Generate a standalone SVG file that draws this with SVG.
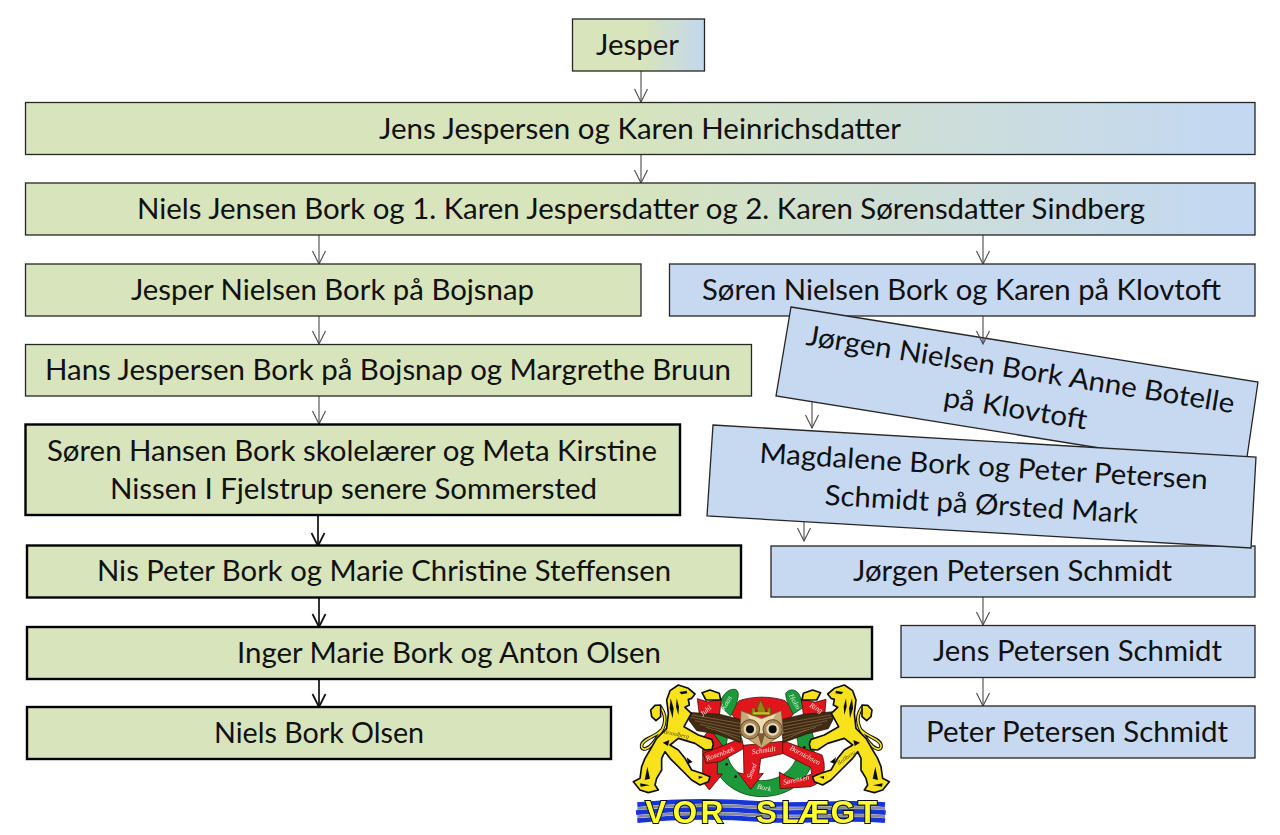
<svg xmlns="http://www.w3.org/2000/svg" xmlns:xlink="http://www.w3.org/1999/xlink" width="1280" height="835" viewBox="0 0 1280 835">
<style>
.n{stroke:#262626;stroke-width:1.3;filter:url(#soft)}
.t{stroke:#000;stroke-width:2.4;filter:url(#soft)}
.g{fill:#d7e4bc}.b{fill:#c6d9f1}
.x{font-family:"Lato","Liberation Sans",sans-serif;font-size:28px;fill:#111}
.c{fill:none;stroke:#4a4a4a;stroke-width:1.1;marker-end:url(#a)}
.k{fill:none;stroke:#111;stroke-width:1.7;marker-end:url(#a2)}
.cr{font-family:"Liberation Serif",serif;font-style:italic;fill:#f6ead8;font-size:22px;text-anchor:middle}
.li{font-family:"Liberation Serif",serif;font-style:italic;fill:#5a4a00;font-size:18px;text-anchor:middle}
.vs{font-family:"Liberation Sans",sans-serif;font-weight:700;font-size:94px;fill:#ffff30;stroke:#111;stroke-width:6;paint-order:stroke}
.lion{fill:#f8e21e;stroke:#111;stroke-width:5;stroke-linejoin:round}
.red{fill:#e0161e;stroke:#4a0c0c;stroke-width:2.5;stroke-linejoin:round}
.grn{fill:#1f9a3a;stroke:#0c4a1a;stroke-width:2.5}
.fe{fill:none;stroke:#9a7a4c;stroke-width:1.800}
</style>
<defs>
<linearGradient id="gr1"><stop offset="0" stop-color="#d7e4bc"/><stop offset=".47" stop-color="#d7e4bc"/><stop offset=".97" stop-color="#c4d8f1"/></linearGradient>
<linearGradient id="gr2"><stop offset="0" stop-color="#d7e4bc"/><stop offset=".55" stop-color="#d7e4bc"/><stop offset="1" stop-color="#c2d7f0"/></linearGradient>
<filter id="soft" x="-5%" y="-20%" width="110%" height="140%"><feGaussianBlur stdDeviation=".5"/></filter>
<filter id="blur" x="-5%" y="-5%" width="110%" height="110%"><feGaussianBlur stdDeviation=".5"/></filter>
<marker id="a" markerUnits="userSpaceOnUse" markerWidth="16" markerHeight="16" refX="14" refY="8" orient="auto"><path d="M1 1.5L14 8L1 14.5" fill="none" stroke="#4a4a4a" stroke-width="1.1"/></marker>
<marker id="a2" markerUnits="userSpaceOnUse" markerWidth="16" markerHeight="16" refX="14" refY="8" orient="auto"><path d="M1 1.5L14 8L1 14.5" fill="none" stroke="#111" stroke-width="1.7"/></marker>
<g id="lionshape">
<path fill="none" stroke="#111" stroke-width="11" stroke-linecap="round" d="M125 180C100 205 70 205 65 225C62 245 85 240 105 212C130 178 148 150 122 112"/>
<path fill="none" stroke="#f8e21e" stroke-width="5" stroke-linecap="round" d="M125 180C100 205 70 205 65 225C62 245 85 240 105 212C130 178 148 150 122 112"/>
<path class="lion" d="M122 105L105 106L92 120L95 140L108 152L122 140Z"/>
<path class="lion" d="M150 62L175 45L205 55L225 72L215 85L205 88L208 105L195 112L214 130L192 170L235 195L275 208L280 222L276 238L255 240L225 220L175 205L150 225L175 240L195 265L215 300L245 310L270 320L265 335L240 345L215 330L185 300L150 265L135 245L125 265L125 300L110 325L105 345L115 360L85 368L60 360L40 335L60 325L65 290L75 265L90 240L110 205L140 175L145 130L140 90Z"/>
<path fill="#111" d="M178 66L200 62L202 70L184 73Z M152 85l9 30l-3 30l-9-30Z M170 85l7 25l-2 25l-7-25Z M128 218l20-8l-4 18Z M200 262l18 14l-14 6Z M82 290l-8 40l16-4Z M236 318l14 3l-14 6Z M60 340l30 6l-28 4Z"/>
<path class="lion" d="M246 68L270 60L298 70L302 90L258 90Z"/>
</g>
</defs>
<rect width="1280" height="835" fill="#fff"/>

<g id="connectors">
<path class="c" d="M641 71V102"/>
<path class="c" d="M641 155V183"/>
<path class="c" d="M319 235V264"/>
<path class="c" d="M983 235V264"/>
<path class="c" d="M319 316V344"/>
<path class="c" d="M319 396V424"/>
<path class="k" d="M318 516V546"/>
<path class="k" d="M319 598V627"/>
<path class="k" d="M319 679V707"/>
<path class="c" d="M983 597V625"/>
<path class="c" d="M983 677V706"/>
</g>

<g id="n1"><rect class="n" x="572.500" y="19" width="132" height="52" fill="url(#gr2)"/><text class="x" x="596" y="55" textLength="83" lengthAdjust="spacingAndGlyphs">Jesper</text></g>
<g id="n2"><rect class="n" x="25.500" y="102.500" width="1229.500" height="52" fill="url(#gr1)"/><text class="x" x="379" y="139" textLength="522" lengthAdjust="spacingAndGlyphs">Jens Jespersen og Karen Heinrichsdatter</text></g>
<g id="n3"><rect class="n" x="25.500" y="183" width="1229.500" height="52" fill="url(#gr1)"/><text class="x" x="137" y="219" textLength="1008" lengthAdjust="spacingAndGlyphs">Niels Jensen Bork og 1. Karen Jespersdatter og 2. Karen Sørensdatter Sindberg</text></g>
<g id="n4"><rect class="n g" x="25.500" y="264" width="615.500" height="52"/><text class="x" x="131" y="300" textLength="403" lengthAdjust="spacingAndGlyphs">Jesper Nielsen Bork på Bojsnap</text></g>
<g id="n5"><rect class="n b" x="669.500" y="264" width="585.500" height="52"/><text class="x" x="702" y="300" textLength="519" lengthAdjust="spacingAndGlyphs">Søren Nielsen Bork og Karen på Klovtoft</text></g>
<g id="n6"><rect class="n g" x="25.500" y="344.500" width="726" height="51.500"/><text class="x" x="45" y="380" textLength="686" lengthAdjust="spacingAndGlyphs">Hans Jespersen Bork på Bojsnap og Margrethe Bruun</text></g>
<g id="n7"><rect class="t g" x="25.500" y="424.500" width="654.500" height="90.500"/><text class="x" x="47" y="461" textLength="610" lengthAdjust="spacingAndGlyphs">Søren Hansen Bork skolelærer og Meta Kirstine</text><text class="x" x="110" y="499" textLength="487" lengthAdjust="spacingAndGlyphs">Nissen I Fjelstrup senere Sommersted</text></g>
<g id="n8"><rect class="t g" x="27" y="545.500" width="714" height="52"/><text class="x" x="97" y="581" textLength="574" lengthAdjust="spacingAndGlyphs">Nis Peter Bork og Marie Christine Steffensen</text></g>
<g id="n9"><rect class="t g" x="27" y="627" width="845" height="52"/><text class="x" x="237" y="663" textLength="424" lengthAdjust="spacingAndGlyphs">Inger Marie Bork og Anton Olsen</text></g>
<g id="n10"><rect class="t g" x="27" y="707" width="584" height="52"/><text class="x" x="214" y="743" textLength="210" lengthAdjust="spacingAndGlyphs">Niels Bork Olsen</text></g>
<g id="n11"><polygon class="n b" points="791,307 1258,382 1247,457 1243,471 776,396"/><text class="x" text-anchor="middle" transform="translate(1019,379) rotate(9.1)" textLength="433" lengthAdjust="spacingAndGlyphs">Jørgen Nielsen Bork Anne Botelle</text><text class="x" text-anchor="middle" transform="translate(1014,418) rotate(9.1)" textLength="145" lengthAdjust="spacingAndGlyphs">på Klovtoft</text></g>
<g id="n13"><rect class="n b" x="771" y="546" width="484" height="51"/><text class="x" x="853" y="581" textLength="319" lengthAdjust="spacingAndGlyphs">Jørgen Petersen Schmidt</text></g>
<g id="n12"><polygon class="n b" points="713,425 1256,457 1251,548 707,516"/><text class="x" text-anchor="middle" transform="translate(983,476) rotate(3.4)" textLength="449" lengthAdjust="spacingAndGlyphs">Magdalene Bork og Peter Petersen</text><text class="x" text-anchor="middle" transform="translate(981,514) rotate(3.4)" textLength="314" lengthAdjust="spacingAndGlyphs">Schmidt på Ørsted Mark</text></g>
<g id="n14"><rect class="n b" x="901" y="625.500" width="354" height="52"/><text class="x" x="933" y="661" textLength="289" lengthAdjust="spacingAndGlyphs">Jens Petersen Schmidt</text></g>
<g id="n15"><rect class="n b" x="901" y="706" width="354" height="52"/><text class="x" x="926" y="742" textLength="302" lengthAdjust="spacingAndGlyphs">Peter Petersen Schmidt</text></g>

<g id="connectors-over">
<path class="c" d="M983 316V344"/>
<path class="c" d="M812 402V428"/>
<path class="c" d="M804 522V541"/>
</g>

<g id="crest" transform="translate(620,670) scale(.33333)" filter="url(#blur)">
<!-- horseshoe -->
<path class="grn" d="M278 175C245 300 330 380 425 380C530 380 610 300 574 175L530 200C552 280 490 332 425 332C360 332 305 280 322 205Z"/>
<circle cx="320" cy="283" r="4" fill="#111"/><circle cx="347" cy="320" r="4" fill="#111"/><circle cx="553" cy="232" r="4" fill="#111"/>
<!-- top arch and flags -->
<path class="red" d="M330 125L358 92C400 78 452 78 495 92L525 125L495 165L360 165Z"/>
<path class="grn" d="M298 105C305 78 322 55 346 58C360 64 355 85 347 108L332 138Z"/>
<path class="grn" d="M497 70C510 52 536 58 542 85L550 112L520 132C510 115 497 90 497 70Z"/>
<path class="red" d="M232 86L264 96L304 86L298 138L240 148Z"/>
<path class="red" d="M544 86L585 97L618 88L613 148L550 132Z"/>
<!-- arrows -->
<path class="red" d="M248 205L270 176L308 228L292 245L292 312L307 312L268 360L230 312L248 312Z"/>
<path class="red" d="M250 250L365 205L372 235L300 275L258 280Z"/>
<path class="red" d="M370 226L490 214L492 250L422 266L416 312L430 310L392 358L354 308L372 312Z"/>
<path class="red" d="M488 212L606 255C622 300 610 340 570 350L480 356L478 306L498 318L530 330L575 312L572 292L488 250Z"/>
<!-- wings -->
<path fill="#3f2a14" stroke="#2a1a0a" stroke-width="2" d="M188 126L300 133L368 150L362 218L290 192L230 182Z"/>
<path fill="#3f2a14" stroke="#2a1a0a" stroke-width="2" d="M652 124L550 133L480 150L490 218L560 192L625 176Z"/>
<path class="fe" d="M200 132L360 160M212 142L360 170M225 152L360 180M240 163L360 190M258 172L360 200M290 180L360 210M648 132L490 160M636 142L490 170M622 152L490 180M606 163L490 190M588 172L490 200M560 180L490 210"/>
<!-- owl -->
<path fill="#c9a878" stroke="#6b5430" stroke-width="2" d="M363 122L425 145L484 122L490 190L452 216L425 234L398 216L360 190Z"/>
<path fill="#eedcb0" d="M380 132L425 148L468 132L442 175L425 212L408 175Z"/>
<circle cx="390" cy="178" r="29" fill="#a8885a" stroke="#5a4526" stroke-width="3"/><circle cx="458" cy="178" r="29" fill="#a8885a" stroke="#5a4526" stroke-width="3"/>
<circle cx="390" cy="178" r="19" fill="#e8d8b0"/><circle cx="458" cy="178" r="19" fill="#e8d8b0"/>
<circle cx="390" cy="178" r="12" fill="#0a0a0a"/><circle cx="458" cy="178" r="12" fill="#0a0a0a"/>
<path fill="#7a5a30" d="M412 190L436 190L424 228Z"/>
<!-- crown -->
<path fill="#8a8a18" stroke="#5a5208" stroke-width="2" d="M395 135V112L410 118L422 90L435 118L452 112V135Z"/>
<path fill="#d8c020" d="M400 127H448V133H400Z"/><path fill="#b01818" d="M405 117h8v9h-8Zm30 0h8v9h-8Z"/>
<!-- ribbon words -->
<text class="cr" transform="translate(262,128) rotate(-42)">Juhl</text>
<text class="cr" transform="translate(325,102) rotate(-58)" style="fill:#dff0d8">Kaas</text>
<text class="cr" transform="translate(518,98) rotate(62)" style="fill:#dff0d8">Holm</text>
<text class="cr" transform="translate(585,120) rotate(28)">Ring</text>
<text class="cr" transform="translate(302,258) rotate(-20)">Rosenbæk</text>
<text class="cr" transform="translate(432,248) rotate(-8)">Schmidt</text>
<text class="cr" transform="translate(402,306) rotate(-68)">Smed</text>
<text class="cr" transform="translate(552,262) rotate(28)">Bornichsen</text>
<text class="cr" transform="translate(530,336) rotate(-12)">Sørensen</text>
<text class="cr" transform="translate(431,360) rotate(12)">Bork</text>
<!-- lions -->
<use xlink:href="#lionshape" href="#lionshape"/>
<use xlink:href="#lionshape" href="#lionshape" transform="translate(848,0) scale(-1,1)"/>
<text class="li" transform="translate(168,198) rotate(12)">Brandberg</text>
<text class="li" transform="translate(682,268) rotate(-35)">Bollberg</text>
<!-- banner -->
<path fill="none" stroke="#1434d8" stroke-width="14" d="M52 404C180 391 300 391 425 401S670 391 795 404M48 428C180 415 300 415 425 425S670 415 797 428M52 452C180 439 300 439 425 449S670 439 795 452"/>
<path fill="none" stroke="#8a8a92" stroke-width="8" d="M52 416C180 403 300 403 425 413S670 403 795 416M52 440C180 427 300 427 425 437S670 427 795 440"/>
<text class="vs" y="458"><tspan x="76">V</tspan><tspan x="158">O</tspan><tspan x="242">R</tspan><tspan x="408">S</tspan><tspan x="484">L</tspan><tspan x="534">Æ</tspan><tspan x="632">G</tspan><tspan x="714">T</tspan></text>
</g>
</svg>
